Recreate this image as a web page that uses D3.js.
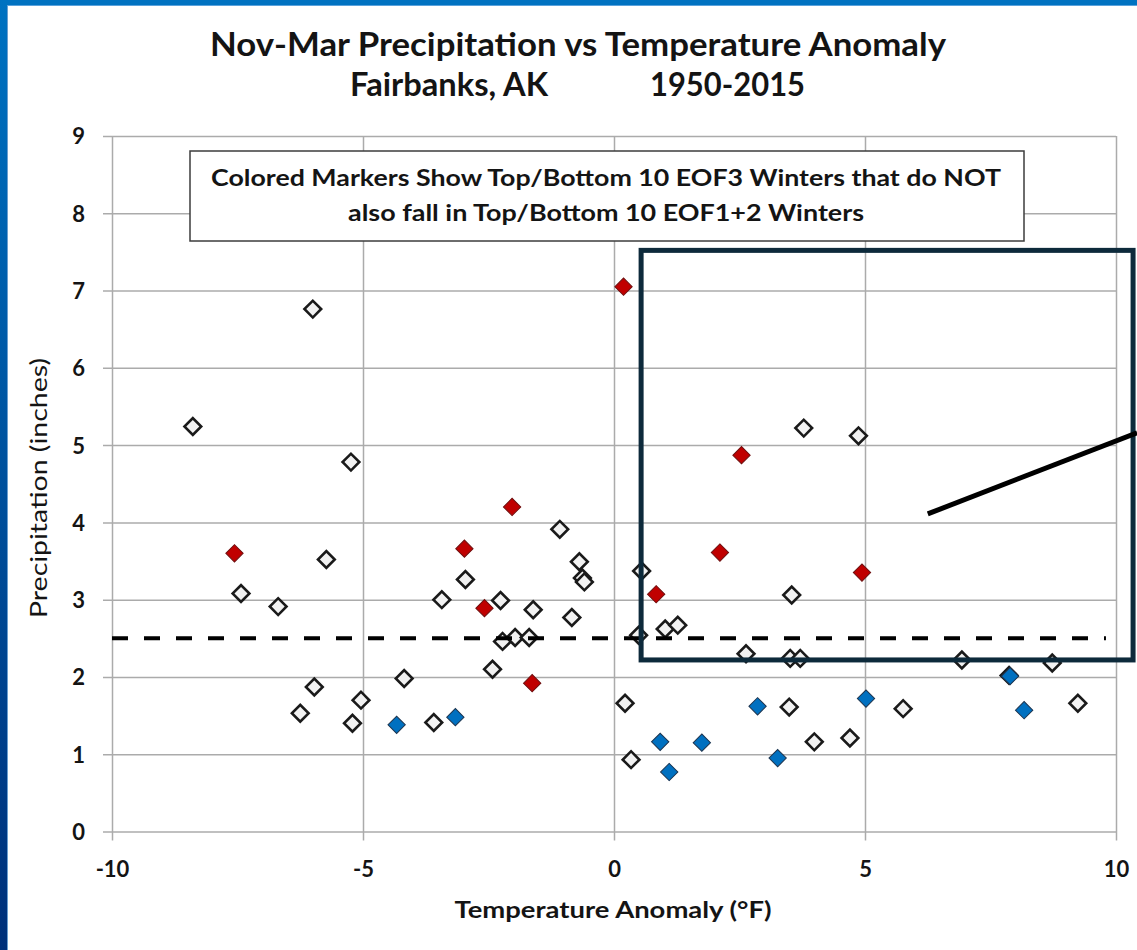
<!DOCTYPE html>
<html>
<head>
<meta charset="utf-8">
<script src="https://cdn.jsdelivr.net/npm/d3@7"></script>
<style>
  html, body { margin: 0; padding: 0; background: #fff; }
  svg { display: block; }
  text { font-family: Lato, "Open Sans", sans-serif; fill: #141414; }
</style>
</head>
<body>
<svg id="chart"></svg>
<script>
// Nov-Mar precipitation vs temperature anomaly, Fairbanks AK, 1950-2015

// winters outside the top/bottom 10 EOF3 lists (open markers)
const openTemp = [-8.39, -6.00, -5.24, -7.43, -6.69, -5.73, -5.97, -6.25, -5.04, -5.21,
  -4.18, -3.59, -2.42, -1.08, -0.69, -0.63, -0.59, -2.96, -3.43, -2.26,
  -1.61, -0.84, 1.02, 1.27, 0.49, -2.22, -1.97, -1.69, 0.55, 0.22,
  0.34, 2.63, 3.78, 4.87, 3.54, 3.51, 3.71, 6.93, 7.87, 8.73,
  3.49, 5.76, 9.24, 3.99, 4.70];
const openPrecip = [5.24, 6.76, 4.78, 3.08, 2.91, 3.52, 1.87, 1.53, 1.70, 1.40,
  1.98, 1.41, 2.10, 3.91, 3.49, 3.28, 3.23, 3.26, 3.00, 2.99,
  2.87, 2.77, 2.62, 2.67, 2.54, 2.46, 2.51, 2.51, 3.37, 1.66,
  0.93, 2.30, 5.22, 5.12, 3.06, 2.24, 2.24, 2.22, 2.02, 2.18,
  1.61, 1.59, 1.66, 1.16, 1.21];

// top 10 EOF3 winters (red)
const redTemp = [-7.56, 0.19, 2.54, -2.03, -2.98, 2.11, 0.84, -2.58, -1.63, 4.94];
const redPrecip = [3.60, 7.05, 4.87, 4.20, 3.66, 3.61, 3.07, 2.89, 1.92, 3.35];

// bottom 10 EOF3 winters (blue)
const blueTemp = [-4.33, -3.16, 0.92, 1.10, 1.75, 2.86, 7.89, 5.02, 8.17, 3.26];
const bluePrecip = [1.38, 1.48, 1.16, 0.77, 1.15, 1.62, 2.01, 1.72, 1.57, 0.95];

const xTicks = [-10, -5, 0, 5, 10];
const yTicks = [0, 1, 2, 3, 4, 5, 6, 7, 8, 9];
const refPrecip = 2.5;
const refExtent = [-10, 9.8];

// hand-drawn overlay, in data units
const boxX = [0.54, 10.34];
const boxY = [2.22, 7.52];
const pointer = [[6.25, 4.11], [10.42, 5.16]];

const titleText = "Nov-Mar Precipitation vs Temperature Anomaly";
const placeText = "Fairbanks, AK";
const yearsText = "1950-2015";
const noteText = ["Colored Markers Show Top/Bottom 10 EOF3 Winters that do NOT",
  "also fall in Top/Bottom 10 EOF1+2 Winters"];

let width = 1137;
let height = 950;
let gridColor = "#ababab";

let svg = d3.select("#chart").attr("width", width).attr("height", height);

// slide frame
let defs = svg.append("defs");
let grad = defs.append("linearGradient").attr("id", "frame")
  .attr("x1", 0).attr("y1", 0).attr("x2", 0).attr("y2", 1);
grad.append("stop").attr("offset", "0%").attr("stop-color", "#0072c1");
grad.append("stop").attr("offset", "100%").attr("stop-color", "#00307a");

svg.append("rect").attr("width", width).attr("height", height).attr("fill", "#fff");
svg.append("rect").attr("x", 0).attr("y", 0).attr("width", width).attr("height", 5).attr("fill", "#0072c1");
svg.append("rect").attr("x", 0).attr("y", 5).attr("width", width).attr("height", 1).attr("fill", "#5aa2dc");
svg.append("rect").attr("x", 0).attr("y", 0).attr("width", 7).attr("height", height).attr("fill", "url(#frame)");
svg.append("rect").attr("x", 7).attr("y", 6).attr("width", 1).attr("height", height).attr("fill", "#6c9fd0");

let x = d3.scaleLinear().domain([-10, 10]).range([112, 1116]);
let y = d3.scaleLinear().domain([0, 9]).range([831.5, 136]);

// plain hyphen for negatives, as in the original
let tickFmt = (d) => String(d);

// y axis with gridlines
let yAxis = svg.append("g")
  .attr("transform", "translate(103,0)")
  .call(d3.axisLeft(y).tickValues(yTicks).tickSize(-(x.range()[1] - 103)).tickPadding(18).tickFormat(tickFmt));
yAxis.select(".domain").remove();
yAxis.selectAll("line").attr("stroke", gridColor).attr("stroke-width", 1.5);
yAxis.selectAll("text")
  .attr("font-size", 22).attr("font-weight", "bold").attr("dy", "0.36em")
  .style("font-family", "Lato, sans-serif").attr("fill", "#141414");

// x axis with gridlines
let xAxis = svg.append("g")
  .attr("transform", `translate(0,${y(0) + 9})`)
  .call(d3.axisBottom(x).tickValues(xTicks).tickSize(-(y(0) + 9 - y(9))).tickPadding(21).tickFormat(tickFmt));
xAxis.select(".domain").remove();
xAxis.selectAll("line").attr("stroke", gridColor).attr("stroke-width", 1.5);
xAxis.selectAll("text")
  .attr("font-size", 22).attr("font-weight", "bold")
  .style("font-family", "Lato, sans-serif").attr("fill", "#141414");

// titles
svg.append("text").attr("x", 578).attr("y", 56).attr("text-anchor", "middle")
  .attr("font-size", 33).attr("font-weight", "bold")
  .attr("textLength", 736).attr("lengthAdjust", "spacingAndGlyphs")
  .text(titleText);
svg.append("text").attr("x", 350).attr("y", 96)
  .attr("font-size", 33).attr("font-weight", "bold")
  .attr("textLength", 198).attr("lengthAdjust", "spacingAndGlyphs")
  .text(placeText);
svg.append("text").attr("x", 650).attr("y", 96)
  .attr("font-size", 33).attr("font-weight", "bold")
  .attr("textLength", 155).attr("lengthAdjust", "spacingAndGlyphs")
  .text(yearsText);

svg.append("text").attr("x", 613).attr("y", 918).attr("text-anchor", "middle")
  .attr("font-size", 23).attr("font-weight", "bold")
  .attr("textLength", 317).attr("lengthAdjust", "spacingAndGlyphs")
  .text("Temperature Anomaly (°F)");
svg.append("text")
  .attr("transform", "translate(47,488) rotate(-90)")
  .attr("text-anchor", "middle")
  .attr("font-size", 23)
  .attr("textLength", 260).attr("lengthAdjust", "spacingAndGlyphs")
  .text("Precipitation (inches)");

// note box
svg.append("rect").attr("x", 190).attr("y", 151).attr("width", 834).attr("height", 90)
  .attr("fill", "#fff").attr("stroke", "#3c3c3c").attr("stroke-width", 1.5);
svg.selectAll(".note").data(noteText).join("text")
  .attr("class", "note")
  .attr("x", 606).attr("y", (d, i) => 186 + i * 35)
  .attr("text-anchor", "middle")
  .attr("font-size", 23).attr("font-weight", "bold")
  .attr("textLength", (d, i) => (i === 0 ? 790 : 516))
  .attr("lengthAdjust", "spacingAndGlyphs")
  .text((d) => d);

// markers
let diamond = (size) => d3.symbol().type(d3.symbolSquare).size(size)();
let toPoints = (xs, ys) => xs.map((t, i) => [t, ys[i]]);

function drawMarkers(points, size, fill, stroke, sw) {
  svg.append("g")
    .selectAll("path")
    .data(points)
    .join("path")
    .attr("d", diamond(size))
    .attr("transform", (d) => `translate(${x(d[0])},${y(d[1])}) rotate(45)`)
    .attr("fill", fill)
    .attr("stroke", stroke)
    .attr("stroke-width", sw);
}

drawMarkers(toPoints(openTemp, openPrecip), 140, "#f2f2f2", "#1a1a1a", 2.6);
drawMarkers(toPoints(redTemp, redPrecip), 150, "#c00000", "#6e1010", 1);
drawMarkers(toPoints(blueTemp, bluePrecip), 150, "#0070c0", "#1d3550", 1);

// reference line at 2.5 in
svg.append("line")
  .attr("x1", x(refExtent[0])).attr("x2", x(refExtent[1]))
  .attr("y1", y(refPrecip)).attr("y2", y(refPrecip))
  .attr("stroke", "#000").attr("stroke-width", 4).attr("stroke-dasharray", "16,16");

// overlay box and pointer
svg.append("rect")
  .attr("x", x(boxX[0])).attr("y", y(boxY[1]))
  .attr("width", x(boxX[1]) - x(boxX[0])).attr("height", y(boxY[0]) - y(boxY[1]))
  .attr("fill", "none").attr("stroke", "#0d2a3b").attr("stroke-width", 5);
svg.append("line")
  .attr("x1", x(pointer[0][0])).attr("y1", y(pointer[0][1]))
  .attr("x2", x(pointer[1][0])).attr("y2", y(pointer[1][1]))
  .attr("stroke", "#000").attr("stroke-width", 5);
</script>
</body>
</html>
